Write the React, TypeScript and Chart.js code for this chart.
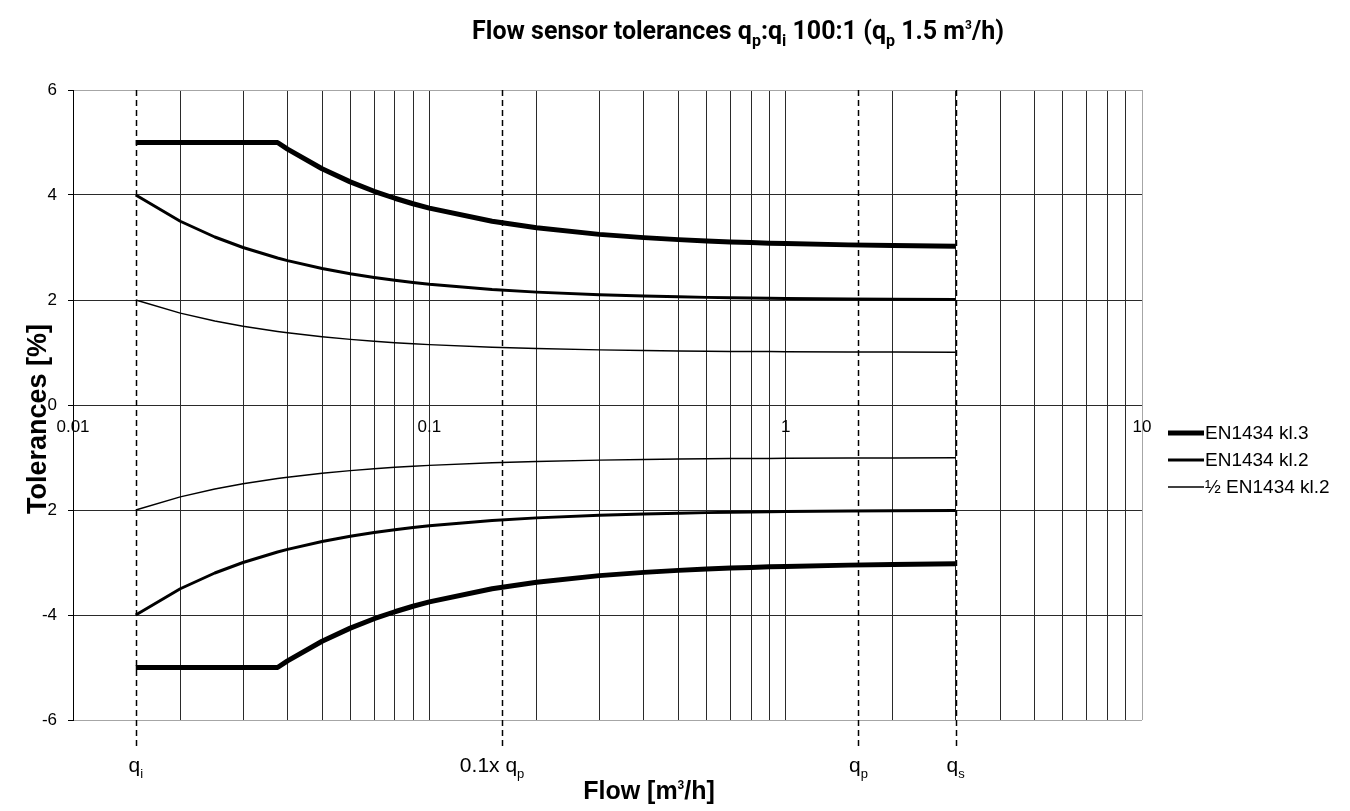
import React, { useEffect, useRef } from 'react';
import { Chart, registerables } from 'chart.js';
Chart.register(...registerables);

// Flow values [m3/h] at which tolerances are read
const flowPoints = [0.015, 0.02, 0.025, 0.03, 0.0375, 0.04, 0.05, 0.06, 0.07, 0.08, 0.09, 0.1, 0.15, 0.2, 0.3, 0.4, 0.5, 0.6, 0.7, 0.8, 0.9, 1, 1.5, 2, 3];

// EN1434 class 3
const kl3Upper = [5, 5, 5, 5, 5, 4.875, 4.5, 4.25, 4.071, 3.938, 3.833, 3.75, 3.5, 3.375, 3.25, 3.188, 3.15, 3.125, 3.107, 3.094, 3.083, 3.075, 3.05, 3.038, 3.025];
const kl3Lower = [-5, -5, -5, -5, -5, -4.875, -4.5, -4.25, -4.071, -3.938, -3.833, -3.75, -3.5, -3.375, -3.25, -3.188, -3.15, -3.125, -3.107, -3.094, -3.083, -3.075, -3.05, -3.038, -3.025];
// EN1434 class 2
const kl2Upper = [4, 3.5, 3.2, 3, 2.8, 2.75, 2.6, 2.5, 2.429, 2.375, 2.333, 2.3, 2.2, 2.15, 2.1, 2.075, 2.06, 2.05, 2.043, 2.038, 2.033, 2.03, 2.02, 2.015, 2.01];
const kl2Lower = [-4, -3.5, -3.2, -3, -2.8, -2.75, -2.6, -2.5, -2.429, -2.375, -2.333, -2.3, -2.2, -2.15, -2.1, -2.075, -2.06, -2.05, -2.043, -2.038, -2.033, -2.03, -2.02, -2.015, -2.01];
// Half of EN1434 class 2
const halfUpper = [2, 1.75, 1.6, 1.5, 1.4, 1.375, 1.3, 1.25, 1.214, 1.188, 1.167, 1.15, 1.1, 1.075, 1.05, 1.038, 1.03, 1.025, 1.021, 1.019, 1.017, 1.015, 1.01, 1.008, 1.005];
const halfLower = [-2, -1.75, -1.6, -1.5, -1.4, -1.375, -1.3, -1.25, -1.214, -1.188, -1.167, -1.15, -1.1, -1.075, -1.05, -1.038, -1.03, -1.025, -1.021, -1.019, -1.017, -1.015, -1.01, -1.008, -1.005];

const seriesNames = ['EN1434 kl.3', 'EN1434 kl.2', '½ EN1434 kl.2'];

// Axis ticks
const xGridTicks = [0.01, 0.02, 0.03, 0.04, 0.05, 0.06, 0.07, 0.08, 0.09, 0.1, 0.2, 0.3, 0.4, 0.5, 0.6, 0.7, 0.8, 0.9, 1, 2, 3, 4, 5, 6, 7, 8, 9, 10];
const xLabelValues = [0.01, 0.1, 1, 10];
const xLabelTexts = ['0.01', '0.1', '1', '10'];
const yTickValues = [-6, -4, -2, 0, 2, 4, 6];
const yTickLabels = ['-6', '-4', '2', '0', '2', '4', '6'];

// Characteristic flows (dashed markers) and their labels
const markerFlows = [0.015, 0.16, 1.6, 3];
const markerLabelFlows = [0.015, 0.15, 1.6, 3];
const markerMain = ['q', '0.1x q', 'q', 'q'];
const markerSub = ['i', 'p', 'p', 's'];

const FONT = '"Liberation Sans", Arial, sans-serif';

type Seg = { t: string; sub?: boolean; sup?: boolean };

function drawRich(ctx: CanvasRenderingContext2D, segs: Seg[], cx: number, baseY: number, size: number, weight: string, family: string) {
  const fontFor = (s: Seg) => `${weight} ${s.sub ? Math.round(size * 0.62) : s.sup ? Math.round(size * 0.48) : size}px ${family}`;
  let total = 0;
  const widths = segs.map((s) => {
    ctx.font = fontFor(s);
    const w = ctx.measureText(s.t).width;
    total += w;
    return w;
  });
  let x = cx - total / 2;
  ctx.textAlign = 'left';
  ctx.textBaseline = 'alphabetic';
  segs.forEach((s, i) => {
    ctx.font = fontFor(s);
    const dy = s.sub ? size * 0.28 : s.sup ? -size * 0.42 : 0;
    ctx.fillText(s.t, x, baseY + dy);
    x += widths[i];
  });
}

const overlayPlugin = {
  id: 'overlay',
  beforeDatasetsDraw(chart: any) {
    const { ctx, scales } = chart;
    const xs = scales.x;
    const ys = scales.y;
    ctx.save();
    ctx.strokeStyle = '#000';
    ctx.lineWidth = 1.5;
    ctx.setLineDash([6, 4]);
    markerFlows.forEach((f) => {
      const px = Math.round(xs.getPixelForValue(f)) + 0.5;
      ctx.beginPath();
      ctx.moveTo(px, ys.getPixelForValue(6));
      ctx.lineTo(px, ys.getPixelForValue(-6) + 30);
      ctx.stroke();
    });
    ctx.restore();
  },
  afterDraw(chart: any) {
    const { ctx, scales } = chart;
    const xs = scales.x;
    const ys = scales.y;
    ctx.save();
    ctx.fillStyle = '#000';

    // x tick labels along the zero line
    ctx.font = `17px ${FONT}`;
    ctx.textAlign = 'center';
    ctx.textBaseline = 'middle';
    const y0 = ys.getPixelForValue(0);
    xLabelValues.forEach((v, i) => {
      ctx.fillText(xLabelTexts[i], xs.getPixelForValue(v), y0 + 22);
    });

    // characteristic flow labels
    markerLabelFlows.forEach((f, i) => {
      drawRich(ctx, [{ t: markerMain[i] }, { t: markerSub[i], sub: true }], xs.getPixelForValue(f), 772, 21, 'normal', FONT);
    });

    // axis titles
    ctx.fillStyle = '#000';
    drawRich(ctx, [{ t: 'Flow [m' }, { t: '3', sup: true }, { t: '/h]' }], 649, 799, 25, 'bold', FONT);
    ctx.save();
    ctx.translate(46, 419);
    ctx.rotate(-Math.PI / 2);
    ctx.font = `bold 27px ${FONT}`;
    ctx.textAlign = 'center';
    ctx.textBaseline = 'alphabetic';
    ctx.fillText('Tolerances [%]', 0, 0);
    ctx.restore();

    // title
    drawRich(
      ctx,
      [
        { t: 'Flow sensor tolerances q' },
        { t: 'p', sub: true },
        { t: ':q' },
        { t: 'i', sub: true },
        { t: ' 100:1 (q' },
        { t: 'p', sub: true },
        { t: ' 1.5 m' },
        { t: '3', sup: true },
        { t: '/h)' },
      ],
      738,
      39,
      25,
      'bold',
      'Roboto, "Liberation Sans", sans-serif'
    );

    // legend
    const legendY = [433, 460, 487];
    const legendW = [5, 3, 1.5];
    seriesNames.forEach((name, i) => {
      ctx.strokeStyle = '#000';
      ctx.lineWidth = legendW[i];
      ctx.beginPath();
      ctx.moveTo(1168, legendY[i]);
      ctx.lineTo(1204, legendY[i]);
      ctx.stroke();
      ctx.font = `19px ${FONT}`;
      ctx.textAlign = 'left';
      ctx.textBaseline = 'middle';
      ctx.fillText(name, 1205, legendY[i] + 1);
    });
    ctx.restore();
  },
};

export default function App() {
  const canvasRef = useRef<HTMLCanvasElement | null>(null);

  useEffect(() => {
    if (!canvasRef.current) return;
    const seriesData = [
      { upper: kl3Upper, lower: kl3Lower, width: 5 },
      { upper: kl2Upper, lower: kl2Lower, width: 3 },
      { upper: halfUpper, lower: halfLower, width: 1.5 },
    ];
    const datasets: any[] = [];
    seriesData.forEach((s, i) => {
      [s.upper, s.lower].forEach((vals, k) => {
        datasets.push({
          label: k === 0 ? seriesNames[i] : seriesNames[i] + ' (-)',
          data: flowPoints.map((x, j) => ({ x, y: vals[j] })),
          borderColor: '#000',
          backgroundColor: '#000',
          borderWidth: s.width,
          pointRadius: 0,
          tension: 0,
          fill: false,
          borderJoinStyle: 'round',
        });
      });
    });

    const chart = new Chart(canvasRef.current, {
      type: 'line',
      data: { datasets },
      plugins: [overlayPlugin],
      options: {
        responsive: false,
        animation: false,
        layout: { padding: { left: 0, top: 90, right: 208, bottom: 91 } },
        plugins: {
          legend: { display: false },
          title: { display: false },
          tooltip: { enabled: false },
        },
        scales: {
          x: {
            type: 'logarithmic',
            min: 0.01,
            max: 10,
            afterBuildTicks: (s: any) => {
              s.ticks = xGridTicks.map((v) => ({ value: v }));
            },
            ticks: { display: false },
            grid: {
              color: (c: any) => (c.tick && c.tick.value === 10 ? '#a6a6a6' : '#2a2a2a'),
              lineWidth: 1,
              drawTicks: false,
            },
            border: { display: false },
            afterFit: (s: any) => {
              s.height = 0;
            },
          },
          y: {
            type: 'linear',
            min: -6,
            max: 6,
            afterBuildTicks: (s: any) => {
              s.ticks = yTickValues.map((v) => ({ value: v }));
            },
            ticks: {
              callback: (_v: any, i: number) => yTickLabels[i],
              font: { family: FONT, size: 17 },
              color: '#000',
              padding: 11,
            },
            grid: {
              color: (c: any) => (c.tick && Math.abs(c.tick.value) === 6 ? '#a6a6a6' : '#2a2a2a'),
              tickColor: '#000',
              tickLength: 5,
              lineWidth: 1,
              drawTicks: true,
            },
            border: { display: true, color: '#000', width: 1 },
            afterFit: (s: any) => {
              s.width = 73;
            },
          },
        },
      } as any,
    });
    return () => chart.destroy();
  }, []);

  return (
    <div style={{ position: 'absolute', left: 0, top: 0, width: 1350, height: 811, background: '#fff' }}>
      <canvas ref={canvasRef} width={1350} height={811} style={{ display: 'block' }} />
    </div>
  );
}
